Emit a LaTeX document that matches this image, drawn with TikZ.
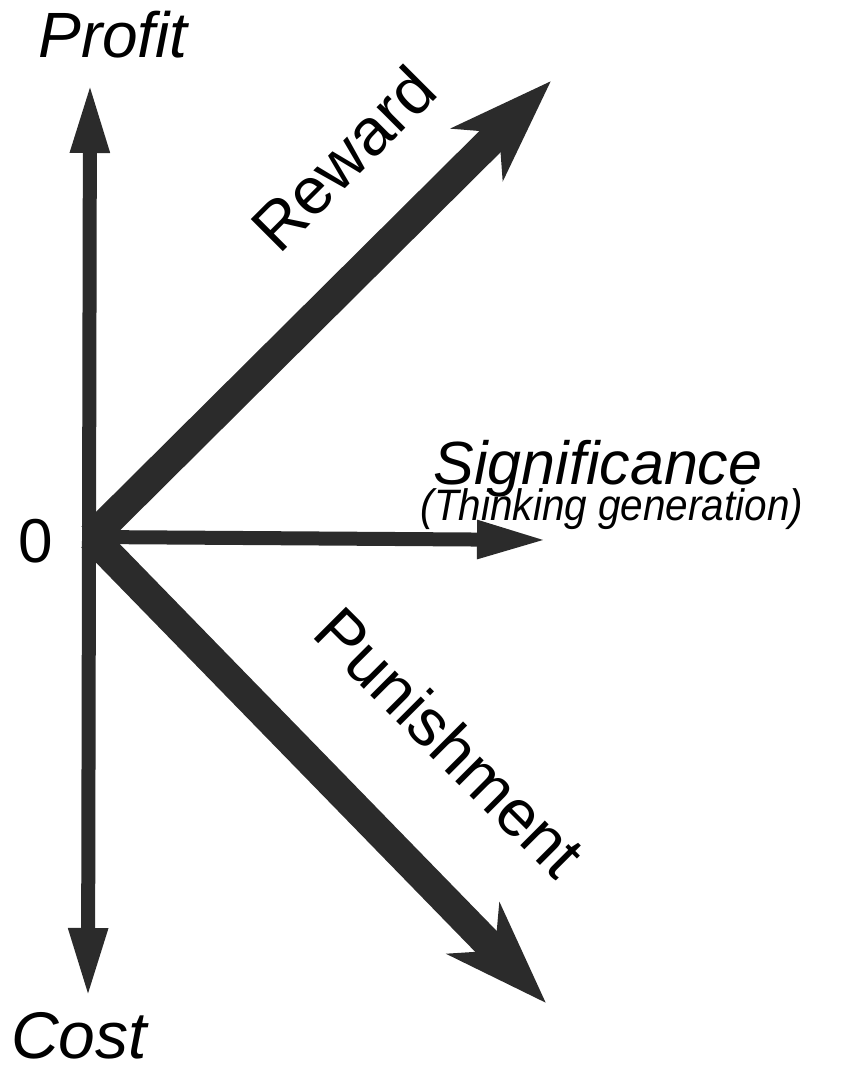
\documentclass[tikz,border=0pt]{standalone}
\usepackage{fontspec}
\setmainfont{Liberation Sans}
\usetikzlibrary{arrows.meta}
\definecolor{inkgray}{HTML}{2B2B2B}

\begin{document}
\begin{tikzpicture}[
    x=1pt, y=-1pt,
    axisarrow/.style={line width=14pt, draw=inkgray, {Triangle[length=70pt, width=36pt]}-{Triangle[length=70pt, width=36pt]}},
    thinarrow/.style={line width=14pt, draw=inkgray, -{Triangle[length=71pt, width=35pt]}},
    fatarrow/.style={line width=30pt, draw=inkgray, -{Stealth[length=103pt, width=72pt, inset=30pt]}},
    biglbl/.style={font=\fontsize{64}{70}\selectfont, inner sep=0pt},
    smalllbl/.style={font=\fontsize{44}{50}\selectfont\itshape, inner sep=0pt, xscale=0.92}
]
\useasboundingbox (0,0) rectangle (842,1073);

% origin and arrow ends
\coordinate (o) at (92,537);
\coordinate (top) at (90,83);
\coordinate (bottom) at (88,998);
\coordinate (rewardtip) at (551,81);
\coordinate (punishtip) at (546,1003);
\coordinate (sigtip) at (548,540);

% arrows
\draw[axisarrow] (bottom) -- (top);
\draw[thinarrow] (o) -- (sigtip);
\draw[fatarrow] (o) -- (rewardtip);
\draw[fatarrow] (o) -- (punishtip);

% labels
\node[biglbl, font=\fontsize{64}{70}\selectfont\itshape] (profit) at (113,35) {Profit};
\node[biglbl, font=\fontsize{66}{70}\selectfont\itshape, anchor=base] (cost) at (79,1058) {Cost};
\node[biglbl, font=\fontsize{62}{70}\selectfont] (zero) at (36,541) {0};
\node[biglbl, font=\fontsize{66}{70}\selectfont, rotate=45] (reward) at (343,158) {Reward};
\node[biglbl, font=\fontsize{66}{70}\selectfont, rotate=-45] (punish) at (450,742) {Punishment};
\node[biglbl, font=\fontsize{61}{70}\selectfont\itshape, anchor=base] (sig) at (598,484) {Significance};
\node[smalllbl, anchor=base] (think) at (612,520) {(Thinking generation)};
\end{tikzpicture}
\end{document}
